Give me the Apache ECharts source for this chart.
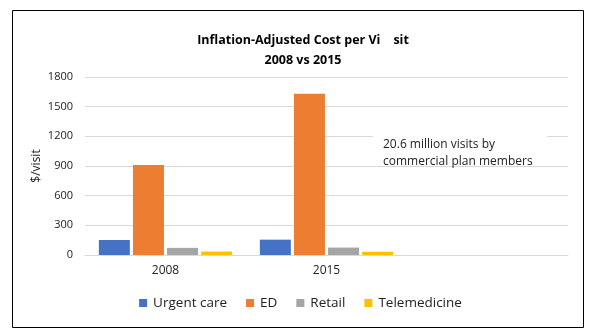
<!DOCTYPE html>
<html>
<head>
<meta charset="utf-8">
<script src="https://cdn.jsdelivr.net/npm/echarts@6/dist/echarts.min.js"></script>
<style>
  html, body { margin: 0; padding: 0; background: #fff; }
  #chart { width: 601px; height: 336px; }
</style>
</head>
<body>
<div id="chart"></div>
<script>
// Years on the category axis; the trailing empty slot leaves room for the note.
const years = ['2008', '2015', ''];
const urgentCare = [152, 155, null];
const ed = [910, 1630, null];
const retail = [72, 75, null];
const telemedicine = [35, 33, null];
const yTicks = [0, 300, 600, 900, 1200, 1500, 1800];

const FONT = '"Open Sans", "Noto Sans", sans-serif';
const chart = echarts.init(document.getElementById('chart'), null, { renderer: 'canvas' });

function bar(name, data, color) {
  return {
    name: name,
    type: 'bar',
    data: data,
    barWidth: 31,
    barGap: '10%',
    itemStyle: { color: color },
    emphasis: { disabled: true }
  };
}

chart.setOption({
  animation: false,
  backgroundColor: '#ffffff',
  textStyle: { fontFamily: FONT },
  title: {
    text: 'Inflation-Adjusted Cost per Vi    sit\n2008 vs 2015',
    left: 298,
    textAlign: 'center',
    top: 25,
    textStyle: { fontFamily: FONT, fontSize: 12.5, fontWeight: 'bold', color: '#000', lineHeight: 20 }
  },
  legend: {
    bottom: 21,
    left: 'center',
    itemWidth: 8,
    itemHeight: 8,
    itemGap: 19,
    icon: 'rect',
    textStyle: { fontFamily: FONT, fontSize: 13.5, color: '#222', padding: [0, 0, 0, 1] },
    data: ['Urgent care', 'ED', 'Retail', 'Telemedicine']
  },
  grid: { left: 85, right: 33, top: 77, bottom: 81 },
  xAxis: {
    type: 'category',
    data: years,
    axisLine: { show: true, lineStyle: { color: '#d9d9d9' } },
    axisTick: { show: false },
    axisLabel: { color: '#222', fontSize: 12, margin: 10, fontFamily: FONT }
  },
  yAxis: {
    type: 'value',
    min: yTicks[0],
    max: yTicks[yTicks.length - 1],
    interval: yTicks[1] - yTicks[0],
    name: '$/visit',
    nameLocation: 'middle',
    nameGap: 42,
    nameMoveOverlap: false,
    nameRotate: 90,
    nameTextStyle: { color: '#222', fontSize: 12, fontFamily: FONT },
    axisLine: { show: false },
    axisTick: { show: false },
    axisLabel: { color: '#222', fontSize: 11, margin: 12, fontFamily: FONT, formatter: v => String(v) },
    splitLine: { lineStyle: { color: '#d9d9d9', width: 1 } }
  },
  series: [
    bar('Urgent care', urgentCare, '#4472c4'),
    bar('ED', ed, '#ed7d31'),
    bar('Retail', retail, '#a5a5a5'),
    bar('Telemedicine', telemedicine, '#ffc000')
  ],
  graphic: [
    {
      type: 'rect',
      shape: { x: 12.5, y: 10.5, width: 571, height: 317 },
      style: { fill: 'none', stroke: '#000', lineWidth: 1 },
      silent: true,
      z: 100
    },
    {
      type: 'rect',
      shape: { x: 373, y: 126, width: 174, height: 38 },
      style: { fill: '#fff' },
      silent: true,
      z: 50
    },
    {
      type: 'text',
      left: 383,
      top: 136,
      style: {
        text: '20.6 million visits by\ncommercial plan members',
        fill: '#222',
        font: '12px ' + FONT,
        lineHeight: 17
      },
      silent: true,
      z: 51
    }
  ]
});
</script>
</body>
</html>
